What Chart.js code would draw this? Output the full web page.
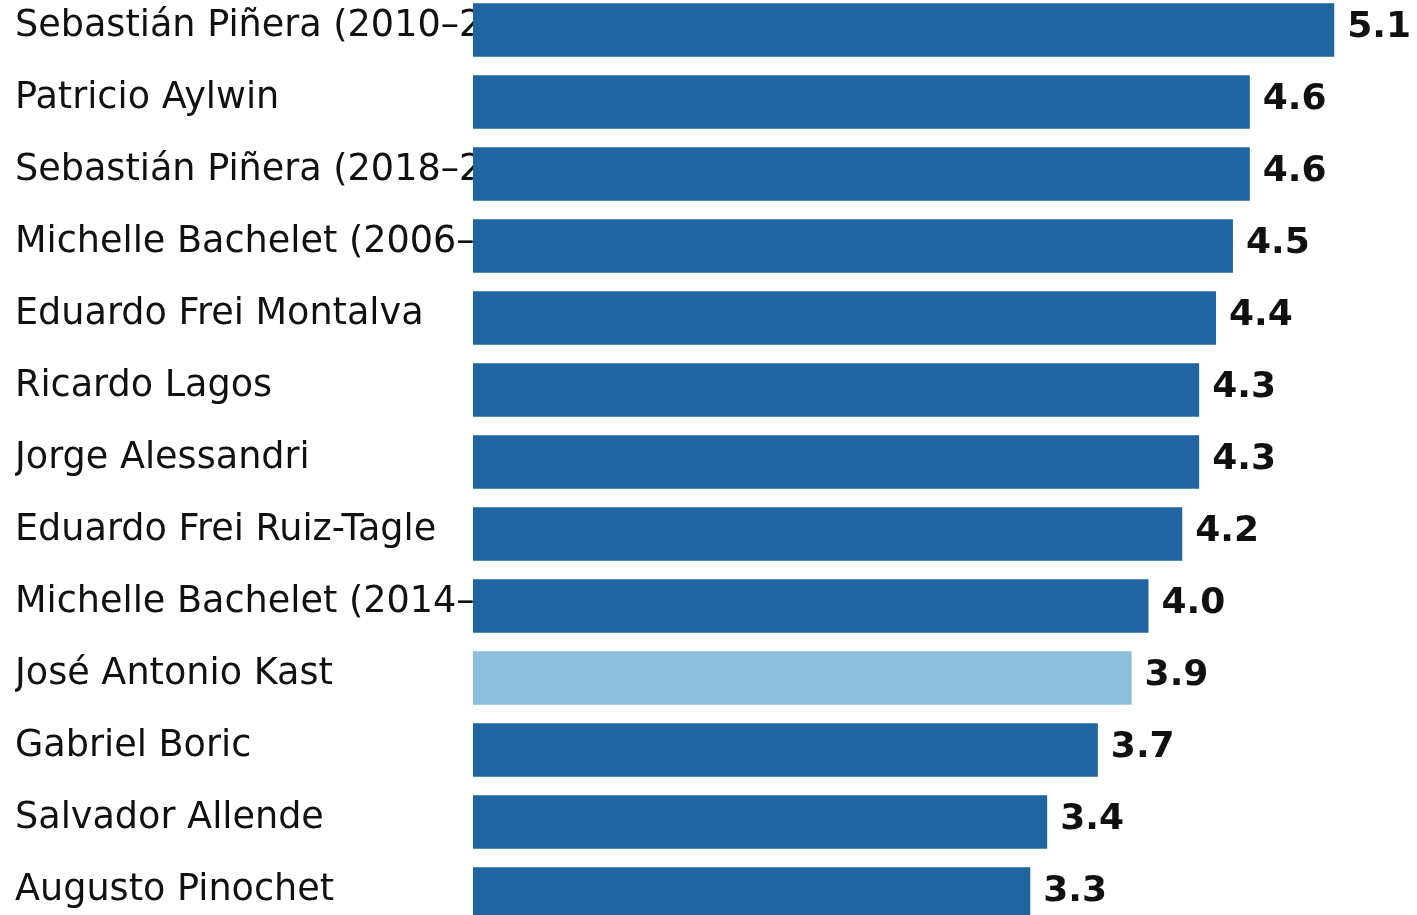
<!DOCTYPE html>
<html>
<head>
<meta charset="utf-8">
<script src="https://cdn.jsdelivr.net/npm/chart.js@4"></script>
<style>
  html, body { margin: 0; padding: 0; background: #fff; overflow: hidden; }
  #wrap { position: absolute; left: 0; top: -6px; width: 1417px; height: 936px; }
</style>
</head>
<body>
<div id="wrap"><canvas id="chart"></canvas></div>
<script>
const presidents = [
  'Sebastián Piñera (2010–2014)',
  'Patricio Aylwin',
  'Sebastián Piñera (2018–2022)',
  'Michelle Bachelet (2006–2010)',
  'Eduardo Frei Montalva',
  'Ricardo Lagos',
  'Jorge Alessandri',
  'Eduardo Frei Ruiz-Tagle',
  'Michelle Bachelet (2014–2018)',
  'José Antonio Kast',
  'Gabriel Boric',
  'Salvador Allende',
  'Augusto Pinochet'
];
const scores = [5.1, 4.6, 4.6, 4.5, 4.4, 4.3, 4.3, 4.2, 4.0, 3.9, 3.7, 3.4, 3.3];
const highlighted = 'José Antonio Kast';

const dark = '#2064a2';
const light = '#8dbedc';

// value labels to the right of each bar
const valueLabels = {
  id: 'valueLabels',
  afterDatasetsDraw(chart) {
    const ctx = chart.ctx;
    const meta = chart.getDatasetMeta(0);
    ctx.save();
    ctx.font = 'bold 36px "DejaVu Sans"';
    ctx.fillStyle = '#111';
    ctx.textAlign = 'left';
    ctx.textBaseline = 'alphabetic';
    meta.data.forEach((bar, i) => {
      ctx.fillText(scores[i].toFixed(1), bar.x + 13, bar.y + 7);
    });
    ctx.restore();
  }
};

const ctx = document.getElementById('chart').getContext('2d');
new Chart(ctx, {
  type: 'bar',
  data: {
    labels: presidents,
    datasets: [{
      data: scores,
      backgroundColor: presidents.map(p => p === highlighted ? light : dark),
      borderWidth: 0,
      categoryPercentage: 1,
      barPercentage: 0.74
    }]
  },
  options: {
    indexAxis: 'y',
    responsive: true,
    maintainAspectRatio: false,
    animation: false,
    layout: { padding: { left: 15, right: 0, top: 0, bottom: 0 } },
    plugins: {
      legend: { display: false },
      tooltip: { enabled: false }
    },
    scales: {
      x: {
        display: false,
        min: 0,
        max: 5.59
      },
      y: {
        afterFit(scale) {
          scale.width = 458;
          scale.paddingTop = 0;
          scale.paddingBottom = 0;
        },
        grid: { display: false },
        border: { display: false },
        ticks: {
          autoSkip: false,
          crossAlign: 'far',
          padding: 0,
          labelOffset: -4,
          color: '#111',
          font: { family: '"DejaVu Sans"', size: 36.6 }
        }
      }
    }
  },
  plugins: [valueLabels]
});
</script>
</body>
</html>
